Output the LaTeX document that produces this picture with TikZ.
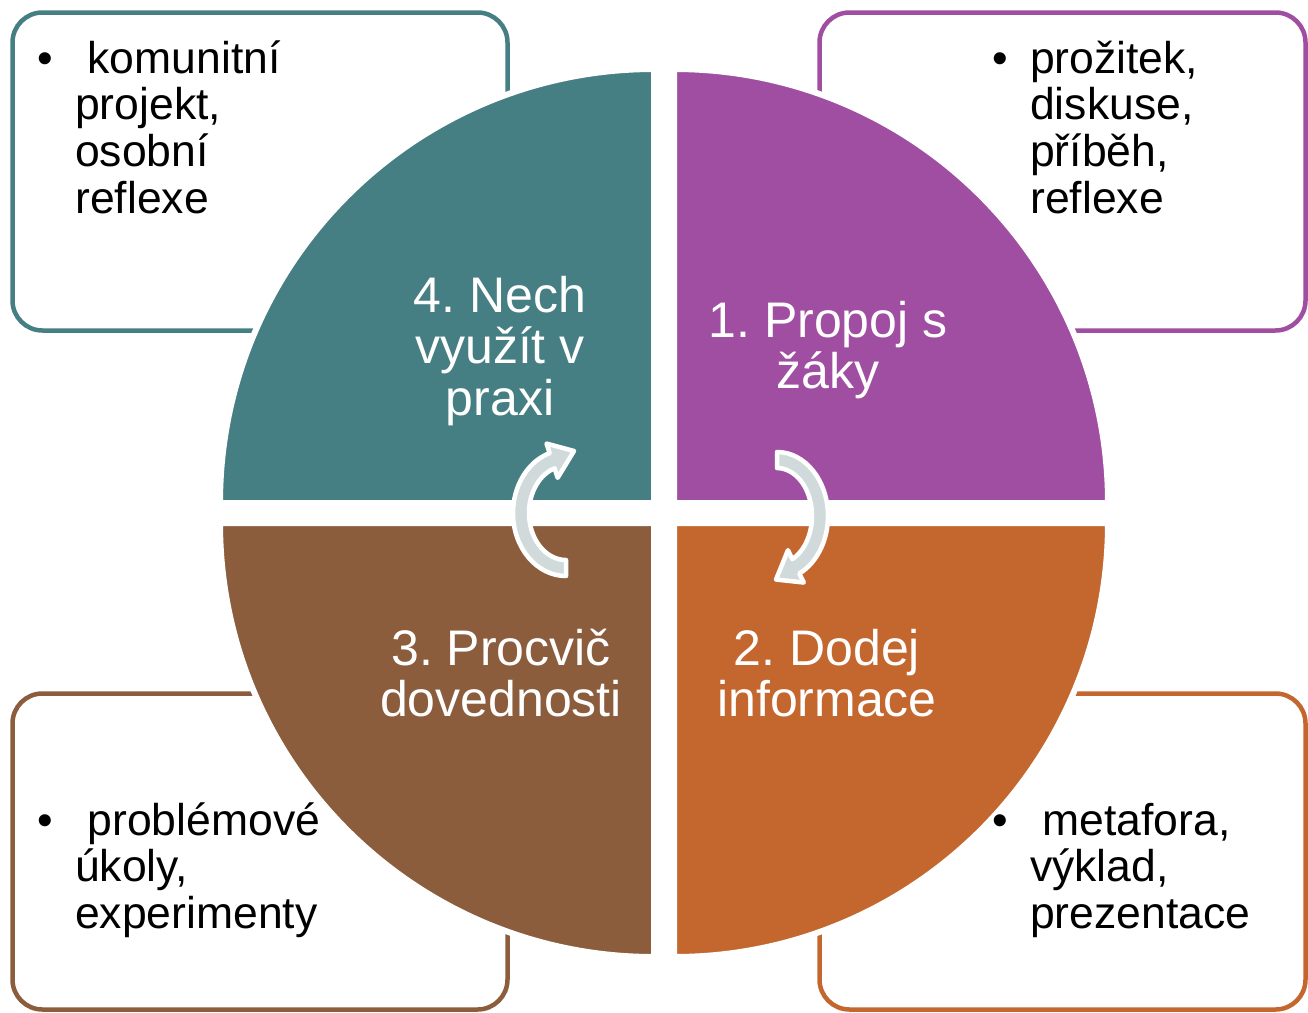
\documentclass[tikz,border=0pt]{standalone}
\usepackage{fontspec}
\setmainfont{Liberation Sans}
\definecolor{qteal}{HTML}{467F83}
\definecolor{qpurple}{HTML}{A04EA2}
\definecolor{qorange}{HTML}{C4672F}
\definecolor{qbrown}{HTML}{8B5D3D}
\definecolor{agray}{HTML}{D0DADA}
\newcommand\cstack[1]{\vtop{\lineskiplimit=-100pt\relax\halign{\hfil##\hfil\cr#1\crcr}}}
\newcommand\lstack[1]{\vtop{\lineskiplimit=-100pt\relax\halign{##\hfil\cr#1\crcr}}}
\frenchspacing
\begin{document}
\begin{tikzpicture}[x=1pt,y=-1pt,
  boxframe/.style={line width=4.5pt, rounded corners=30pt},
  quad/.style={draw=white, line width=6pt, line join=round},
  boxtext/.style={inner sep=0pt, text=black, font=\fontsize{44.5}{46.7}\selectfont\frenchspacing},
  qlabel/.style={inner sep=0pt, text=white, font=\fontsize{50}{51.5}\selectfont\frenchspacing},
  cyc/.style={fill=agray, draw=white, line width=4.5pt, line join=round}]
\useasboundingbox (0,0) rectangle (1308,1012);
\fill[white] (0,0) rectangle (1308,1012);
% side boxes
\draw[boxframe, draw=qteal] (12.5,12.5) rectangle (507.5,330.5);
\draw[boxframe, draw=qpurple] (819.5,12.5) rectangle (1305.5,330.5);
\draw[boxframe, draw=qbrown] (12.5,693.5) rectangle (507.5,1009.5);
\draw[boxframe, draw=qorange] (819.5,693.5) rectangle (1305.5,1009.5);
% quadrants
\filldraw[quad, fill=qteal] (654,503) -- (220,503) arc[start angle=180, end angle=270, radius=434] -- cycle;
\filldraw[quad, fill=qpurple] (674,503) -- (674,69) arc[start angle=270, end angle=360, radius=434] -- cycle;
\filldraw[quad, fill=qorange] (674,523) -- (1108,523) arc[start angle=0, end angle=90, radius=434] -- cycle;
\filldraw[quad, fill=qbrown] (654,523) -- (654,957) arc[start angle=90, end angle=180, radius=434] -- cycle;
% labels
\node[qlabel, anchor=base] (l4) at (500,312) {\cstack{4. Nech\cr využít v\cr praxi}};
\node[qlabel, anchor=base] (l1) at (828,337) {\cstack{1. Propoj s\cr žáky}};
\node[qlabel, anchor=base] (l3) at (501,665) {\cstack{3. Procvič\cr dovednosti}};
\node[qlabel, anchor=base] (l2) at (827,665) {\cstack{2. Dodej\cr informace}};
% cycle arrows
\begin{scope}[shift={(566,513)}]
\draw[cyc] (90:53 and 63) arc[start angle=90,end angle=252,x radius=53,y radius=63]
  -- (252:63 and 73) -- (8,-62) -- (252:27 and 37) -- (252:37 and 47)
  arc[start angle=252,end angle=90,x radius=37,y radius=47] -- cycle;
\end{scope}
\begin{scope}[shift={(777,516)}]
\draw[cyc] (270:51 and 64) arc[start angle=270,end angle=424,x radius=51,y radius=64]
  -- (424:61 and 74) -- (-1,63.5) -- (424:25 and 38) -- (424:35 and 48)
  arc[start angle=424,end angle=270,x radius=35,y radius=48] -- cycle;
\end{scope}
% box texts
\node[boxtext, anchor=base west] (t4) at (75,73) {\lstack{\llap{•\hspace{22pt}}\hspace{12.4pt}komunitní\cr projekt,\cr osobní\cr reflexe}};
\node[boxtext, anchor=base west] (t1) at (1030,73) {\lstack{\llap{•\hspace{22pt}}prožitek,\cr diskuse,\cr příběh,\cr reflexe}};
\node[boxtext, anchor=base west] (t3) at (75,835) {\lstack{\llap{•\hspace{22pt}}\hspace{12.4pt}problémové\cr úkoly,\cr experimenty}};
\node[boxtext, anchor=base west] (t2) at (1030,835) {\lstack{\llap{•\hspace{22pt}}\hspace{12.4pt}metafora,\cr výklad,\cr prezentace}};
\end{tikzpicture}
\end{document}
